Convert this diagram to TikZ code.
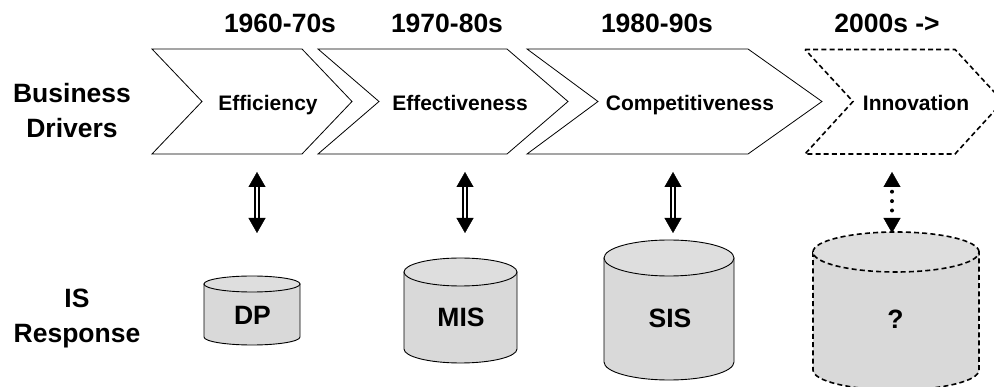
\documentclass[tikz,border=0pt]{standalone}
\usepackage{fontspec}
\setmainfont{Liberation Sans}
\usetikzlibrary{arrows.meta}
\definecolor{cylfill}{RGB}{217,217,217}
\definecolor{cyltop}{RGB}{222,222,222}
\newcommand\drawcyl[6]{%
  \path[#6, fill=cylfill] (#1-#2,#3) -- (#1-#2,#4) arc[start angle=180,end angle=360,x radius=#2pt,y radius=#5pt] -- (#1+#2,#3) -- cycle;
  \draw[#6, fill=cyltop] (#1,#3) ellipse[x radius=#2pt, y radius=#5pt];
}
\tikzset{
  big/.style={font=\fontsize{26.5}{35}\selectfont\bfseries, inner sep=0pt},
  mid/.style={font=\fontsize{21}{25}\selectfont\bfseries, inner sep=0pt},
  chevsolid/.style={draw, line width=0.8pt, line join=miter},
  chevdash/.style={draw, line width=1.6pt, dash pattern=on 5pt off 3.2pt},
  cylsolid/.style={draw, line width=0.9pt},
  cyldash/.style={draw, line width=1.6pt, dash pattern=on 5pt off 3.2pt},
  shaft/.style={double, line width=1.9pt, double distance=2.6pt, shorten <=13pt, shorten >=13pt},
  heads/.style={draw=white, line width=0.3pt,
    {Triangle[length=15pt,width=17pt,color=black]}-{Triangle[length=15pt,width=17pt,color=black]}},
  dotshaft/.style={line width=4pt, line cap=round, dash pattern=on 0pt off 9.4pt, shorten <=19.7pt, shorten >=22.3pt}
}
\begin{document}
\begin{tikzpicture}[x=1pt,y=-1pt]
\useasboundingbox (0,0) rectangle (994,387);
% chevrons
\draw[chevsolid] (152,49) -- (302,49) -- (352,101.5) -- (302,154) -- (152,154) -- (202,101.5) -- cycle;
\draw[chevsolid] (318,49) -- (507,49) -- (568,101.5) -- (507,154) -- (318,154) -- (379,101.5) -- cycle;
\draw[chevsolid] (527,49) -- (748,49) -- (822,101.5) -- (748,154) -- (527,154) -- (598,101.5) -- cycle;
\draw[chevdash] (805,49.5) -- (955,49.5) -- (1003,101.5) -- (955,154) -- (805,154) -- (853,101.5) -- cycle;
% years
\node[big, anchor=base] (y1) at (280,33) {1960-70s};
\node[big, anchor=base] (y2) at (447,33) {1970-80s};
\node[big, anchor=base] (y3) at (657,33) {1980-90s};
\node[big, anchor=base] (y4) at (887,33) {2000s ->};
% chevron labels
\node[mid, anchor=base] (d1) at (268,111) {Efficiency};
\node[mid, anchor=base] (d2) at (460,111) {Effectiveness};
\node[mid, anchor=base] (d3) at (690,111) {Competitiveness};
\node[mid, anchor=base] (d4) at (916,111) {Innovation};
% left labels
\node[big, anchor=north, align=center] (bd) at (72,83) {Business\\Drivers};
\node[big, anchor=north, align=center] (isr) at (77,289) {IS\\Response};
% cylinders
\drawcyl{252}{48}{284}{337}{8}{cylsolid}
\drawcyl{460.5}{56.5}{272}{349}{14}{cylsolid}
\drawcyl{669}{65}{258}{362}{18}{cylsolid}
\drawcyl{896}{83}{252}{370}{20}{cyldash}
\node[big, anchor=base] (c1) at (252.5,325) {DP};
\node[big, anchor=base] (c2) at (461,326.5) {MIS};
\node[big, anchor=base] (c3) at (670,328) {SIS};
\node[big, anchor=base] (c4) at (895.5,329) {?};
% arrows
\coordinate (a1t) at (257,172); \coordinate (a1b) at (257,233);
\coordinate (a2t) at (465,172); \coordinate (a2b) at (465,233);
\coordinate (a3t) at (673,172); \coordinate (a3b) at (673,233);
\coordinate (a4t) at (892,172); \coordinate (a4b) at (892,233);
\foreach \n in {1,2,3}{
  \draw[shaft] (a\n t) -- (a\n b);
  \draw[heads] (a\n t) -- (a\n b);
}
\draw[heads] (a4t) -- (a4b);
\draw[dotshaft] (a4t) -- (a4b);
\end{tikzpicture}
\end{document}
